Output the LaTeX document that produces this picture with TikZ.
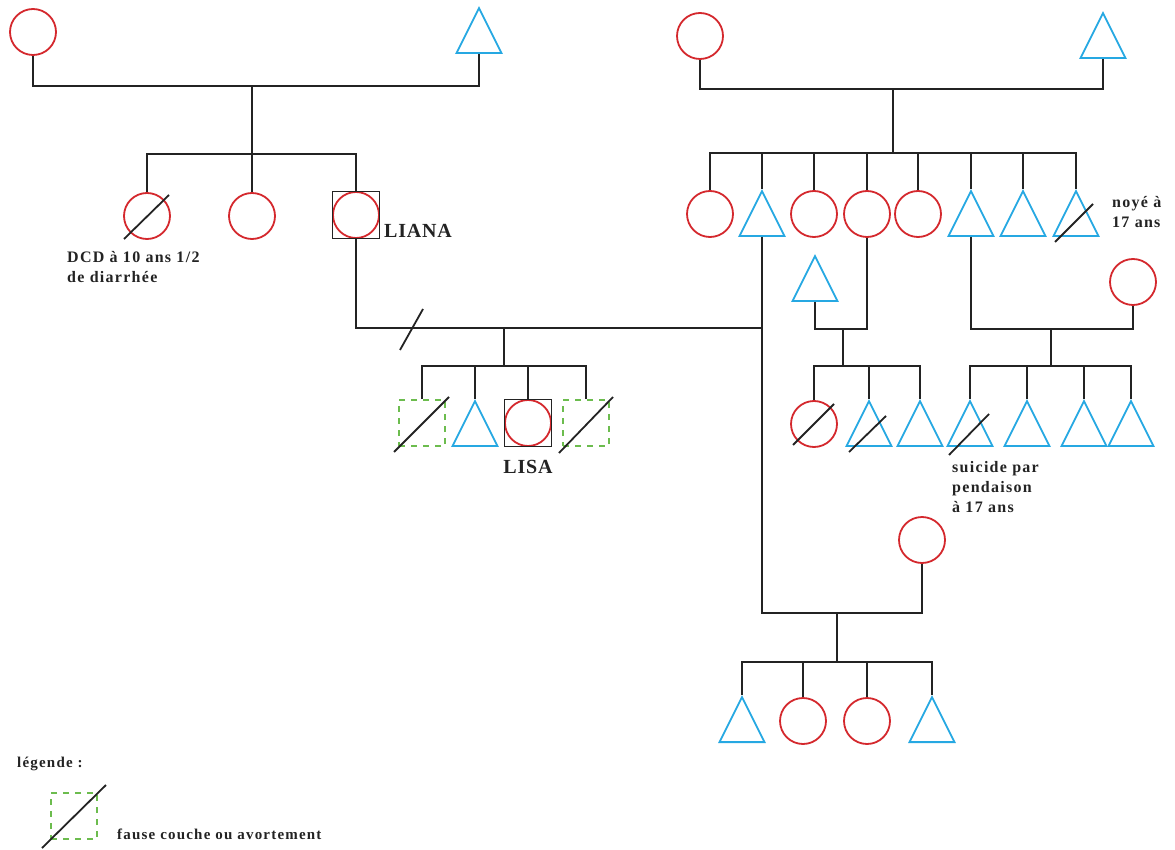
\documentclass[tikz,border=0pt]{standalone}
\usepackage{fontspec}
\setmainfont{Liberation Serif}
\newfontfamily\notefont[LetterSpace=8]{Liberation Serif}
\newfontfamily\namefont[LetterSpace=4]{Liberation Serif}
\usepackage{tikz}
\usetikzlibrary{shapes.geometric,calc}

\definecolor{femred}{RGB}{212,40,45}
\definecolor{mascblue}{RGB}{38,168,226}
\definecolor{miscgreen}{RGB}{108,188,78}
\definecolor{ink}{RGB}{35,35,35}

\begin{document}
\begin{tikzpicture}[
  x=1pt, y=-1pt,
  fem/.style={circle, draw=femred, line width=1.8pt, minimum size=46pt, inner sep=0pt},
  masc/.style={isosceles triangle, shape border rotate=90, isosceles triangle stretches,
    minimum width=45pt, minimum height=45pt, draw=mascblue, line width=1.8pt, inner sep=0pt, anchor=south},
  proband/.style={rectangle, draw=ink, line width=1.6pt, minimum size=47pt, inner sep=0pt},
  misc/.style={rectangle, draw=miscgreen, line width=1.8pt, dash pattern=on 6pt off 6pt, minimum size=46pt, inner sep=0pt},
  link/.style={draw=ink, line width=2pt},
  slash/.style={draw=ink, line width=1.8pt},
  note/.style={font=\notefont\bfseries\fontsize{16}{20}\selectfont, text=ink, align=left, inner sep=0pt, anchor=base west},
  persname/.style={font=\namefont\bfseries\fontsize{20}{24}\selectfont, text=ink, inner sep=0pt}
]
  \useasboundingbox (0,0) rectangle (1175,850);

  % generation I
  \node[fem] (gm1) at (33,32) {};
  \node[masc] (gf1) at (479,54) {};
  \node[fem] (gm2) at (700,36) {};
  \node[masc] (gf2) at (1103,59) {};
  \coordinate (u1) at (252,86);
  \coordinate (s1) at (252,154);
  \coordinate (u2) at (893,89);
  \coordinate (s2) at (893,153);
  \draw[link] (gm1.south) |- (u1) -| (gf1.south);
  \draw[link] (u1) -- (s1);
  \draw[link] (gm2.south) |- (u2) -| (gf2.south);
  \draw[link] (u2) -- (s2);

  % generation II, left
  \node[fem] (dcd) at (147,216) {};
  \node[fem] (sis) at (252,216) {};
  \node[fem] (liana) at (356,215) {};
  \node[proband] (lianabox) at (356,215) {};
  \draw[link] (dcd.north) |- (s1) -| (lianabox.north);
  \draw[link] (s1) -- (sis.north);
  \draw[slash] ([shift={(-23,23)}]dcd.center) -- ([shift={(22,-21)}]dcd.center);
  \node[note] (dcdnote) at (67,283) {DCD à 10 ans 1/2\\de diarrhée};
  \node[persname, anchor=base west] (liananame) at (384,238) {LIANA};

  % generation II, right
  \node[fem] (c1) at (710,214) {};
  \node[masc] (c2) at (762,237) {};
  \node[fem] (c3) at (814,214) {};
  \node[fem] (c4) at (867,214) {};
  \node[fem] (c5) at (918,214) {};
  \node[masc] (c6) at (971,237) {};
  \node[masc] (c7) at (1023,237) {};
  \node[masc] (c8) at (1076,237) {};
  \draw[link] (c1.north) |- (s2) -| (c8.north);
  \draw[link] (c2.north) -- (c2.north |- s2);
  \draw[link] (c3.north) -- (c3.north |- s2);
  \draw[link] (c4.north) -- (c4.north |- s2);
  \draw[link] (c5.north) -- (c5.north |- s2);
  \draw[link] (c6.north) -- (c6.north |- s2);
  \draw[link] (c7.north) -- (c7.north |- s2);
  \draw[slash] ([shift={(-21,5)}]c8.south) -- ([shift={(17,-33)}]c8.south);
  \node[note] (noyenote) at (1112,228) {noyé à\\17 ans};

  % Liana and c2
  \coordinate (u3) at (504,328);
  \coordinate (s3) at (504,366);
  \draw[link] (lianabox.south) |- (c2.south |- u3);
  \draw[link] (u3) -- (s3);
  \draw[slash] (400,350) -- (423,309);

  % generation III, Liana
  \node[misc] (mis1) at (422,423) {};
  \node[masc] (bro) at (475,447) {};
  \node[fem] (lisa) at (528,423) {};
  \node[proband] (lisabox) at (528,423) {};
  \node[misc] (mis2) at (586,423) {};
  \draw[link] (mis1.north) |- (s3) -| (mis2.north);
  \draw[link] (bro.north) -- (bro.north |- s3);
  \draw[link] (lisabox.north) -- (lisabox.north |- s3);
  \draw[slash] ([shift={(-28,29)}]mis1.center) -- ([shift={(27,-26)}]mis1.center);
  \draw[slash] ([shift={(-27,30)}]mis2.center) -- ([shift={(27,-26)}]mis2.center);
  \node[persname, anchor=base] (lisaname) at (528,473) {LISA};

  % c4 and partner
  \node[masc] (pc4) at (815,302) {};
  \coordinate (u5) at (843,329);
  \coordinate (s5) at (843,366);
  \draw[link] (pc4.south) |- (u5) -| (c4.south);
  \draw[link] (u5) -- (s5);
  \node[fem] (k1) at (814,424) {};
  \node[masc] (k2) at (869,447) {};
  \node[masc] (k3) at (920,447) {};
  \draw[link] (k1.north) |- (s5) -| (k3.north);
  \draw[link] (k2.north) -- (k2.north |- s5);
  \draw[slash] ([shift={(-21,21)}]k1.center) -- ([shift={(20,-20)}]k1.center);
  \draw[slash] ([shift={(-20,5)}]k2.south) -- ([shift={(17,-31)}]k2.south);

  % c6 and partner
  \node[fem] (w6) at (1133,282) {};
  \coordinate (u6) at (1051,329);
  \coordinate (s6) at (1051,366);
  \draw[link] (c6.south) |- (u6) -| (w6.south);
  \draw[link] (u6) -- (s6);
  \node[masc] (g1) at (970,447) {};
  \node[masc] (g2) at (1027,447) {};
  \node[masc] (g3) at (1084,447) {};
  \node[masc] (g4) at (1131,447) {};
  \draw[link] (g1.north) |- (s6) -| (g4.north);
  \draw[link] (g2.north) -- (g2.north |- s6);
  \draw[link] (g3.north) -- (g3.north |- s6);
  \draw[slash] ([shift={(-21,8)}]g1.south) -- ([shift={(19,-33)}]g1.south);
  \node[note] (suicidenote) at (952,512) {suicide par\\pendaison\\à 17 ans};

  % c2 and second partner
  \node[fem] (w3) at (922,540) {};
  \coordinate (u4) at (837,613);
  \coordinate (s4) at (837,662);
  \draw[link] (c2.south) |- (u4) -| (w3.south);
  \draw[link] (u4) -- (s4);
  \node[masc] (b1) at (742,743) {};
  \node[fem] (b2) at (803,721) {};
  \node[fem] (b3) at (867,721) {};
  \node[masc] (b4) at (932,743) {};
  \draw[link] (b1.north) |- (s4) -| (b4.north);
  \draw[link] (b2.north) -- (b2.north |- s4);
  \draw[link] (b3.north) -- (b3.north |- s4);

  % legend
  \node[note, font=\notefont\bfseries\fontsize{15}{18}\selectfont] (legtitle) at (17,767) {légende :};
  \node[misc] (legmisc) at (74,816) {};
  \draw[slash] ([shift={(-32,32)}]legmisc.center) -- ([shift={(32,-31)}]legmisc.center);
  \node[note, font=\notefont\bfseries\fontsize{15}{18}\selectfont] (legtext) at (117,839) {fause couche ou avortement};
\end{tikzpicture}
\end{document}
